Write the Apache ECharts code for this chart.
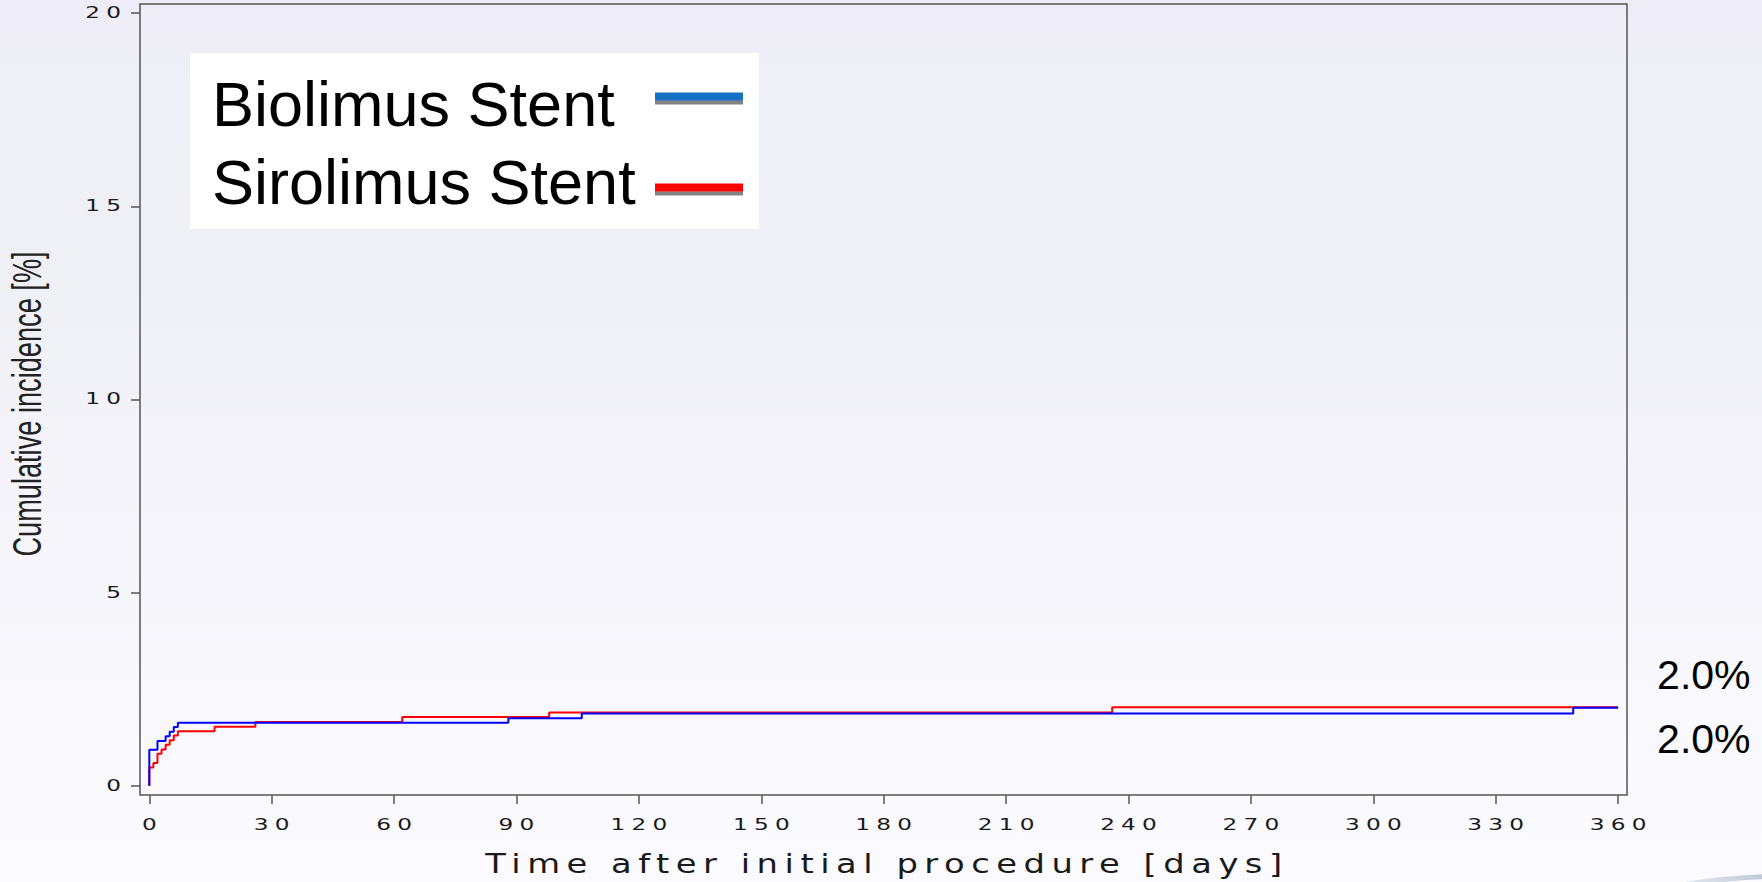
<!DOCTYPE html>
<html><head><meta charset="utf-8">
<script src="https://cdn.jsdelivr.net/npm/echarts@6/dist/echarts.min.js"></script>
<style>
html,body{margin:0;padding:0;}
body{background:linear-gradient(to bottom,#eeedf7 0%,#efeff7 10%,#eff0f5 30%,#f4f4fa 55%,#f8f8fd 80%,#fbfbff 100%);}
#chart{width:1762px;height:882px;}
</style></head>
<body><div id="chart"></div>
<script>
const xTicks = [0, 30, 60, 90, 120, 150, 180, 210, 240, 270, 300, 330, 360];
const yTicks = [0, 5, 10, 15, 20];
const seriesNames = ['Biolimus Stent', 'Sirolimus Stent'];
const biolimusDays = [0, 0, 2, 4, 5, 6, 7, 88, 106, 349, 360];
const biolimusPct  = [0, 0.93, 1.16, 1.28, 1.40, 1.52, 1.63, 1.75, 1.87, 2.02, 2.02];
const sirolimusDays = [0, 0, 1, 2, 3, 4, 5, 6, 7, 16, 26, 62, 98, 236, 360];
const sirolimusPct  = [0, 0.47, 0.59, 0.83, 0.94, 1.06, 1.18, 1.30, 1.41, 1.53, 1.65, 1.78, 1.90, 2.03, 2.03];

const zip = (xs, ys) => xs.map((x, i) => [x, ys[i]]);
const chart = echarts.init(document.getElementById('chart'), null, {renderer: 'svg', width: 1762, height: 882});

const endLabel = (dy) => ({
  show: true,
  formatter: p => p.value[1].toFixed(1) + '%',
  fontFamily: 'Liberation Sans', fontSize: 41, color: '#000',
  distance: 0, offset: [39, dy]
});
const iconShadow = {shadowColor: 'rgba(90,90,90,0.75)', shadowOffsetY: 4, shadowBlur: 0};

chart.setOption({
  animation: false,
  backgroundColor: 'transparent',
  grid: {left: 140, top: 4, right: 135, bottom: 81, show: true, borderColor: '#555', borderWidth: 1.5, backgroundColor: 'transparent'},
  legend: {
    orient: 'vertical', left: 190, top: 53, align: 'right',
    backgroundColor: '#ffffff', padding: [19, 16, 16, 22], itemGap: 15,
    itemWidth: 88, itemHeight: 22, selectedMode: false,
    formatter: '{a|{name}}',
    textStyle: {fontFamily: 'Liberation Sans', fontSize: 63, color: '#000',
      rich: {a: {width: 438, align: 'left', fontFamily: 'Liberation Sans', fontSize: 63, lineHeight: 62, color: '#000'}}},
    data: [
      {name: seriesNames[0], icon: 'path://M0,0L88,0L88,8L0,8Z M0,22L0,22', itemStyle: Object.assign({color: '#1872c6'}, iconShadow)},
      {name: seriesNames[1], icon: 'path://M0,0L0,0 M0,13L88,13L88,21L0,21Z M0,22L0,22', itemStyle: Object.assign({color: '#ff0000'}, iconShadow)}
    ]
  },
  xAxis: {
    type: 'value', min: -2.28, max: 362.18,
    axisLine: {show: false, onZero: false}, splitLine: {show: false},
    axisTick: {show: true, length: 9, lineStyle: {color: '#555', width: 1.5}, customValues: xTicks},
    axisLabel: {customValues: xTicks, fontFamily: 'DejaVu Sans', fontSize: 15, color: '#1a1a1a', margin: 23},
    name: 'Time after initial procedure [days]', nameLocation: 'middle', nameGap: 56,
    nameTextStyle: {fontFamily: 'DejaVu Sans', fontSize: 26, color: '#1a1a1a'}
  },
  yAxis: {
    type: 'value', min: -0.239, max: 20.239,
    axisLine: {show: false, onZero: false}, splitLine: {show: false},
    axisTick: {show: true, length: 9, lineStyle: {color: '#555', width: 1.5}, customValues: yTicks},
    axisLabel: {customValues: yTicks, fontFamily: 'DejaVu Sans', fontSize: 15, color: '#1a1a1a', margin: 19}
  },
  graphic: [
    {type: 'text', x: 27, y: 404, rotation: Math.PI / 2, scaleX: 0.68, silent: true,
      style: {text: 'Cumulative incidence [%]', fontFamily: 'Liberation Sans', fontSize: 40, fill: '#222', align: 'center', verticalAlign: 'middle'}},
    {type: 'ellipse', silent: true, shape: {cx: 1800, cy: 940, rx: 230, ry: 64},
      style: {fill: 'none', lineWidth: 5, stroke: {type: 'linear', x: 0, y: 0, x2: 1, y2: 0,
        colorStops: [{offset: 0, color: 'rgba(230,232,240,0)'}, {offset: 0.45, color: '#b9c2d2'}, {offset: 1, color: '#6f93c6'}]}}}
  ],
  series: [
    {name: seriesNames[1], type: 'line', step: 'end', symbol: 'none', z: 2,
      data: zip(sirolimusDays, sirolimusPct),
      lineStyle: {color: '#ff0000', width: 2}, itemStyle: {color: '#ff0000'},
      endLabel: endLabel(-32)},
    {name: seriesNames[0], type: 'line', step: 'end', symbol: 'none', z: 3,
      data: zip(biolimusDays, biolimusPct),
      lineStyle: {color: '#0000ff', width: 2}, itemStyle: {color: '#0000ff'},
      endLabel: endLabel(31)}
  ]
});

// Wide, spaced lettering of the original axis texts (tick labels and x-axis title).
const WIDE = {15: {sp: 4, sx: 1.55}, 26: {sp: 5.0, sx: 1.3}};
function restyle() {
  document.querySelectorAll('#chart svg text').forEach(t => {
    const fs = Math.round(parseFloat(getComputedStyle(t).fontSize));
    const r = WIDE[fs];
    if (!r) return;
    const cur = t.getAttribute('transform') || '';
    if (t.__applied !== undefined && t.__applied === cur) return;
    const isX = t.getBoundingClientRect().top > 805;
    const a = isX ? 0.5 : 1;
    t.style.letterSpacing = '0px';
    const b0 = t.getBBox();
    const ox = b0.x + b0.width * a;
    t.style.letterSpacing = r.sp + 'px';
    const b1 = t.getBBox();
    const nx = b1.x + (b1.width - r.sp) * a;
    const tr = cur + ' translate(' + ox + ',0) scale(' + r.sx + ',1) translate(' + (-nx) + ',0)';
    t.setAttribute('transform', tr);
    t.__applied = tr;
  });
}
restyle();
chart.on('finished', restyle);
setTimeout(restyle, 30);
</script>
</body></html>
